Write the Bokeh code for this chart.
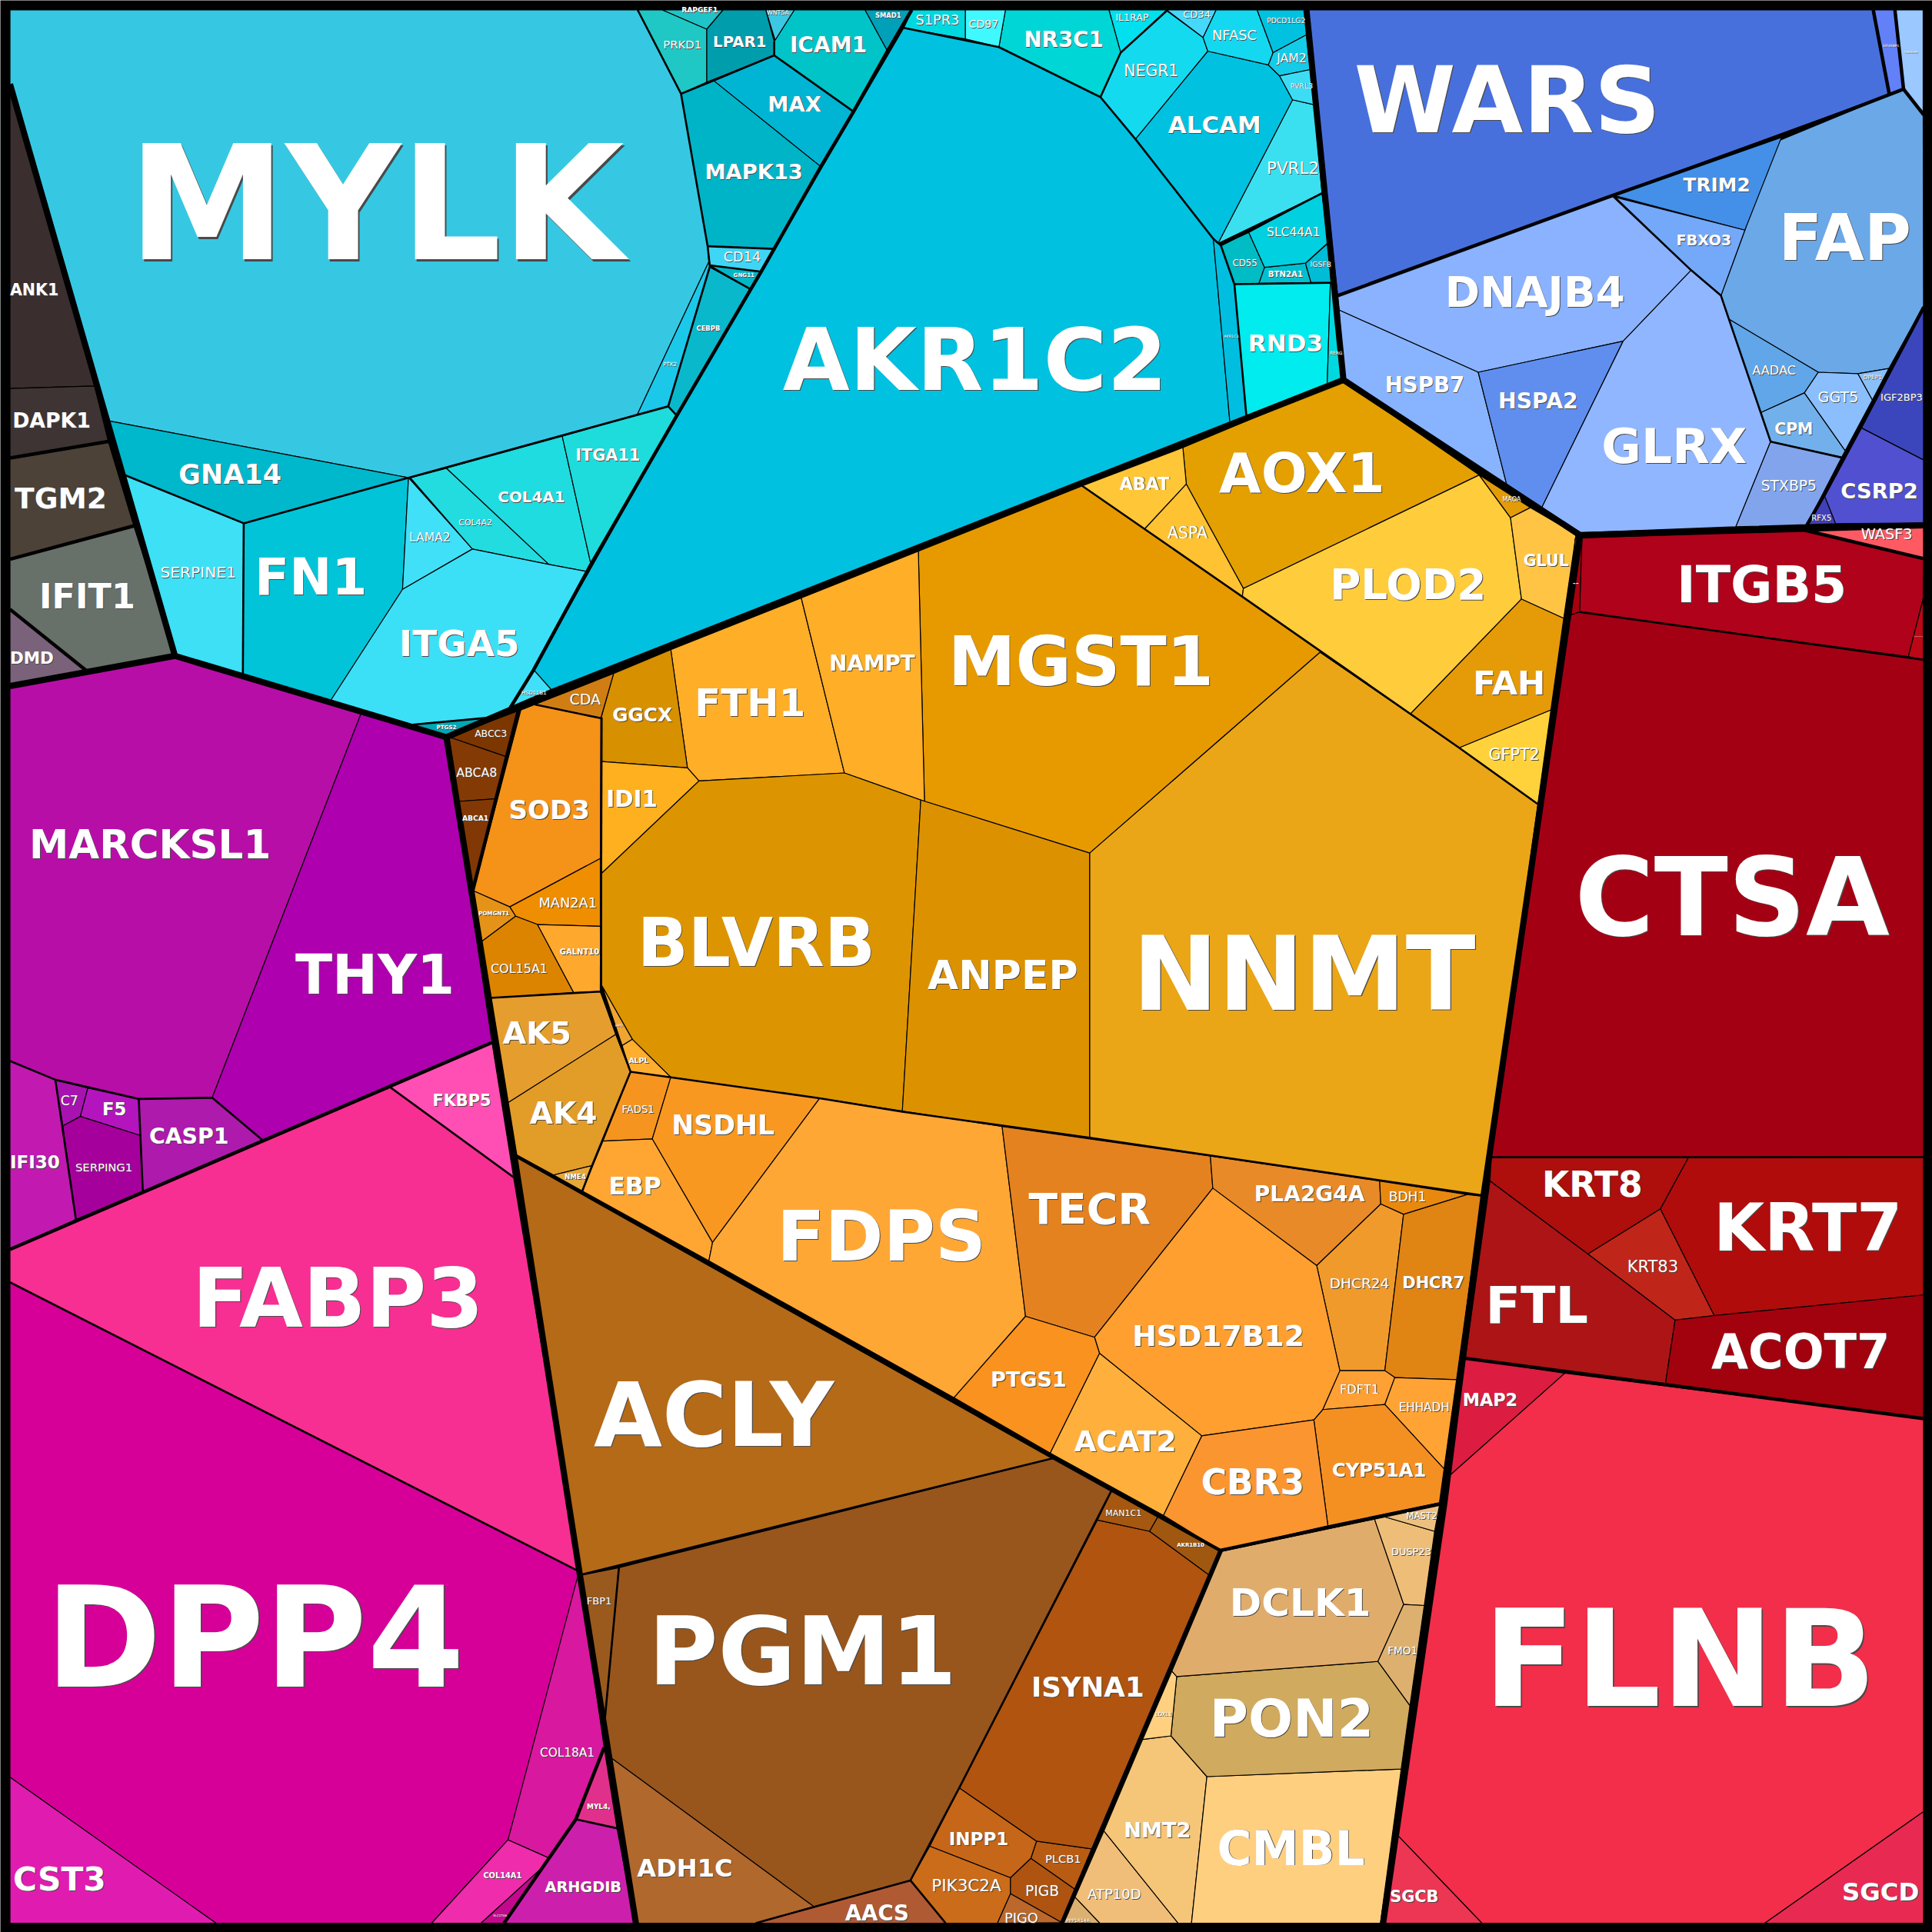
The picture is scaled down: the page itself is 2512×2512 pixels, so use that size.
from bokeh.embed import file_html
from bokeh.resources import INLINE
from bokeh.plotting import figure
from bokeh.models import Range1d, ColumnDataSource
from bokeh.core.properties import value

# ---- cells of the Voronoi treemap, in picture units (0..1568)
dark_genes = ["ANK1","DAPK1","TGM2","IFIT1","DMD"]
dark_colors = ["#3A2E2E","#3E3434","#4C4238","#68706A","#7A627A"]
dark_cells = [
 [(7.8,68),(76.4,313),(7.8,315)],
 [(7.8,315),(76.4,313),(87.6,358),(7.8,371.4)],
 [(7.8,371.4),(87.6,358),(108.3,426.5),(7.8,453.6)],
 [(7.8,453.6),(108.3,426.5),(141.7,531.6),(70,544.1),(7.8,494.2)],
 [(7.8,494.2),(70,544.1),(7.8,556)],
]
magenta_genes = ["MARCKSL1","THY1","FKBP5","FABP3","DPP4","CST3","COL18A1","MYL4,","ARHGDIB","COL14A1","SLC27A6","IFI30","C7","F5","SERPING1","CASP1"]
magenta_colors = ["#B80EA8","#AE00AE","#FF4FB4","#F72F92","#D60098","#E01CB0","#D8189E","#E0308C","#CC20AC","#EE2CAC","#C4088E","#C21AB0","#A812B0","#B414BE","#A6009C","#AE1AAC"]
magenta_cells = [
 [(7.8,558),(141.7,532),(293,578),(171.9,890.6),(112.3,891.6),(71,882.7),(44.6,876),(7.8,860.8)],
 [(293,578),(362,598),(399,845.8),(212.6,924.9),(171.9,890.6)],
 [(399,845.8),(416.5,955.1),(316.2,882)],
 [(7.8,1013.7),(316.2,882),(416.5,955.1),(469.6,1275),(7.8,1040.4)],
 [(7.8,1040.4),(469.6,1275),(453.6,1342),(412,1492.9),(350,1560.5),(175,1560.5),(7.8,1442)],
 [(7.8,1442),(175,1560.5),(7.8,1560.5)],
 [(469.6,1275),(490,1418),(467.1,1476.2),(444.6,1507.4),(412,1492.9)],
 [(490,1418),(500.4,1483.5),(467.1,1476.2)],
 [(467.1,1476.2),(500.4,1483.5),(515,1560.5),(408.8,1560.5)],
 [(412,1492.9),(444.6,1507.4),(440.5,1514.7),(390.1,1560.5),(350,1560.5)],
 [(440.5,1514.7),(408.8,1560.5),(390.1,1560.5)],
 [(7.8,860.8),(44.6,876),(61.3,989.4),(7.8,1013.7)],
 [(44.6,876),(71,882.7),(64.9,905.8),(50.7,913.5)],
 [(71,882.7),(112.3,891.6),(113.4,921.2),(64.9,905.8)],
 [(50.7,913.5),(64.9,905.8),(113.4,921.2),(115.6,966.5),(61.3,989.4)],
 [(112.3,891.6),(171.9,890.6),(212.6,924.9),(115.6,966.5)],
]
cyan_genes = ["MYLK","PTK2","CEBPB","GNG11","CD14","MAPK13","MAX","ICAM1","WNT5A","SMAD1","LPAR1","RAPGEF1","PRKD1","AKR1C2","AKR1C3","RND3","RERG","CD55","BTN2A1","IGSF8","SLC44A1","PVRL2","ALCAM","NEGR1","IL1RAP","CD34","NFASC","PDCD1LG2","JAM2","PVRL3","NR3C1","CD97","S1PR3","GNA14","SERPINE1","FN1","LAMA2","COL4A2","COL4A1","ITGA11","ITGA5","HSD11B1","PTGS2"]
cyan_colors = ["#36C8E2","#1CC8EA","#0AB8CC","#00B7C7","#3FD6F5","#00B4C8","#00B5D4","#00C4C8","#3CC8E2","#00A0B8","#009DAD","#1FC4C8","#1FC8C4","#00C1E0","#00BEE0","#00ECEE","#00D8E0","#00BCC4","#00C0D0","#00BCD4","#00D0E0","#3AE0F0","#00C2E0","#14DAF0","#00E0EE","#46D8FA","#14D8F0","#00C2E0","#14CCE8","#3DDCF5","#00D6D6","#40F8FF","#00D8E0","#00B8CC","#3DE0F5","#02C4D8","#40E0F8","#22DCE0","#1EDCE0","#1EDCDC","#3CE0F6","#40E0FA","#00A8B4"]
cyan_cells = [
 [(7.8,7.8),(517.2,7.8),(552.4,75.8),(574,199.5),(575,212),(517,336),(331.2,387.4),(87.6,341.2),(7.8,68)],
 [(575,212),(575.8,216),(542,329.5),(517,336)],
 [(575.8,216),(609,234.5),(549,337),(542,329.5)],
 [(575.8,215),(617.4,220.2),(609,234.5)],
 [(574,199.5),(628,201.7),(617.4,220.2),(575.8,215)],
 [(552.4,75.8),(579.2,65.3),(665.9,134.9),(628,201.7),(574,199.5)],
 [(579.2,65.3),(628,44.6),(692.4,90.3),(665.9,134.9)],
 [(628,44.6),(628,33.4),(644.3,7.8),(701.8,7.8),(720,41.2),(692.4,90.3)],
 [(621.2,7.8),(644.3,7.8),(628.8,32.3)],
 [(701.8,7.8),(739.6,7.8),(720,41.2)],
 [(573.2,23.4),(586.4,7.8),(621.2,7.8),(628,33.4),(628,44.6),(573.2,66.4)],
 [(537.2,7.8),(586.4,7.8),(573.2,23.4)],
 [(517.2,7.8),(537.2,7.8),(573.2,23.4),(573.2,66.4),(552.4,75.8)],
 [(733.2,22.3),(810.4,37.9),(892.8,78.5),(921.2,112.6),(984.4,193.5),(998,344),(448.4,560.9),(432.8,543.3),(549,337)],
 [(984.4,193.5),(990.5,198.8),(1001.5,230.3),(1011.3,337.7),(998,344)],
 [(1001.5,230.3),(1079.4,229.2),(1076.8,313),(1011.3,339)],
 [(1079.4,229.2),(1087,229),(1090,308),(1076.8,313)],
 [(990.5,198.8),(1013.2,188.4),(1026,216.7),(1021.5,229.6),(1001.5,230.3)],
 [(1026,216.7),(1059.2,213.3),(1063.7,229),(1021.5,229.6)],
 [(1059.2,213.3),(1078,196.6),(1080,229),(1063.7,229)],
 [(1013.2,188.4),(1072.6,156.5),(1077.5,196.6),(1059.2,213.3),(1026,216.7)],
 [(988.2,197.3),(1048.7,80.7),(1066.2,84.7),(1072.6,156.5)],
 [(921.2,112.6),(979.9,41.2),(1029.1,52.4),(1038.2,61.3),(1048.7,80.7),(988.2,197.3),(984.4,193.5)],
 [(892.8,78.5),(909.2,42.4),(946.6,8.5),(976.1,30.1),(979.9,41.2),(921.2,112.6)],
 [(899.7,7.8),(946.6,7.8),(909.2,42.4)],
 [(946.6,7.8),(986.7,7.8),(976.1,30.1)],
 [(986.7,7.8),(1020,7.8),(1032.9,42.4),(1029.1,52.4),(979.9,41.2),(976.1,30.1)],
 [(1020,7.8),(1060,7.8),(1060,27.9),(1032.9,42.4)],
 [(1032.9,42.4),(1060,27.9),(1063,56.2),(1038.2,61.3),(1029.1,52.4)],
 [(1038.2,61.3),(1063,56.2),(1066.2,84.7),(1048.7,80.7)],
 [(815.7,7.8),(899.7,7.8),(909.2,42.4),(892.8,78.5),(810.4,37.9)],
 [(783.1,7.8),(815.7,7.8),(810.4,37.9),(783.1,31.2)],
 [(740,7.8),(783.1,7.8),(783.1,31.2),(733.2,22.3)],
 [(87.6,341.2),(331.2,387.4),(197.5,424.4),(100.3,385)],
 [(100.3,385),(197.5,424.4),(196.8,547.2),(141.7,531.6)],
 [(197.5,424.4),(331.2,387.4),(326.4,478),(268.2,568),(196.8,547.2)],
 [(331.2,387.4),(383.1,445.3),(326.4,478)],
 [(332.8,387.4),(362,379.7),(445.2,457.8),(383.1,445.3)],
 [(362,379.7),(456,353.7),(479.3,457.8),(476.1,463.6),(445.2,457.8)],
 [(456,353.7),(542,329.5),(549,337),(479.3,457.8)],
 [(383.1,445.3),(445.2,457.8),(476.1,463.6),(432.8,543.3),(414.1,575.4),(398,582),(334.4,587.8),(268.2,568),(326.4,478)],
 [(432.8,543.3),(448.4,560.9),(414.1,575.4)],
 [(334.4,587.8),(398,582),(362,598)],
]
blue_genes = ["WARS","EIF4EBP1","TMEM189","FAP","TRIM2","FBXO3","DNAJB4","HSPB7","HSPA2","GLRX","AADAC","GGT5","DPEP1","CPM","STXBP5","RFX5","CSRP2","IGF2BP3"]
blue_colors = ["#4870DD","#6280F8","#9AC8FF","#6AA8E8","#4490E8","#74A8F8","#8AB2FF","#88B4FF","#5F8EEE","#90B6FF","#60A6E8","#8ABEFC","#8AC0F8","#72B0EC","#82A4EC","#4040B8","#5050D0","#3C46BC"]
blue_cells = [
 [(1060,7.8),(1520,7.8),(1533,76),(1085.4,239.6)],
 [(1520,7.8),(1537.6,7.8),(1544.6,72),(1533,76)],
 [(1537.6,7.8),(1560.5,7.8),(1560.5,92),(1544.6,72)],
 [(1440.7,115),(1544.6,72),(1560.5,92),(1560.8,248.2),(1532.6,298.8),(1507.6,303),(1475.4,301.8),(1402.9,258.8),(1396.4,239.6),(1415.8,186.5)],
 [(1309,158.1),(1446,110),(1415.8,186.5)],
 [(1309,159.4),(1415.8,186.5),(1396.4,239.6),(1372.2,219)],
 [(1085.4,239.6),(1309,158.1),(1372.2,219),(1317,276.6),(1199.4,301.8),(1086.6,251.4)],
 [(1086.6,251.4),(1199.4,301.8),(1222.4,392.6),(1240,408),(1090,308)],
 [(1199.4,301.8),(1317,276.6),(1250.6,412.4),(1222.4,392.6)],
 [(1317,276.6),(1372.2,219),(1396.4,239.6),(1402.9,258.8),(1428.7,334.6),(1436.7,358.1),(1408.5,427.2),(1282.8,432),(1250.6,412.4)],
 [(1402.9,258.8),(1475.4,301.8),(1464.1,318.6),(1428.7,334.6)],
 [(1475.4,301.8),(1507.6,303),(1519.3,324.3),(1497.2,365.5),(1464.1,318.6)],
 [(1507.6,303),(1532.6,298.8),(1519.3,324.3)],
 [(1464.1,318.6),(1497.2,365.5),(1494.3,370.9),(1436.7,358.1),(1428.7,334.6)],
 [(1436.7,358.1),(1494.3,370.9),(1466.1,425.5),(1408.5,427.2)],
 [(1480.2,401.3),(1489.5,424.7),(1466.1,425.5)],
 [(1494.3,371.7),(1509.6,346.5),(1560.8,372.9),(1560.8,424),(1489.5,424.7),(1480.2,401.3)],
 [(1560.8,249.5),(1560.8,372.9),(1509.6,346.5)],
]
orange_genes = ["NNMT","GFPT2","MGST1","AOX1","ABAT","ASPA","PLOD2","GLUL","MAOA","FAH","FTH1","NAMPT","GGCX","CDA","IDI1","BLVRB","ANPEP","SOD3","MAN2A1","POMGNT1","COL15A1","GALNT10","AK5","AK4","NME4","HPD","ALPL","FADS1","EBP","NSDHL","FDPS","TECR","PLA2G4A","BDH1","DHCR24","DHCR7","FDFT1","EHHADH","CYP51A1","HSD17B12","CBR3","ACAT2","PTGS1","ABCC3","ABCA8","ABCA1"]
orange_colors = ["#EAA616","#FFD23C","#E69A00","#E3A000","#FFC638","#FFC232","#FFCC3C","#FFC444","#E39C08","#E59A08","#FFAE28","#FFAE28","#D69000","#D07E14","#FFB01E","#DC9500","#DC9200","#F59218","#EE8E00","#E59318","#DC8400","#FFA82E","#E59E2E","#E29C28","#E6A838","#F0A530","#FFAE30","#F59520","#FFA632","#F99820","#FFA735","#E48220","#E88A28","#E8890E","#F09A2C","#E08414","#FFA035","#FFA335","#F49022","#FF9F30","#FB9530","#FFB03C","#F9921E","#7C3600","#843A04","#823804"]
orange_cells = [
 [(884,692),(1071,529),(1183.9,606.6),(1247.8,652.3),(1204,970),(1119.4,958.2),(982,938),(884,923)],
 [(1183.9,606.6),(1258.4,575.8),(1247.8,652.3)],
 [(745,447),(878,394),(1008,484),(1144.4,579.1),(1071,529),(884,692),(750,650)],
 [(959.7,363),(1089.4,308.7),(1200.2,385.2),(1008.8,477.3),(962.5,392.6)],
 [(878,394),(959.7,363),(962.5,392.6),(928.7,429)],
 [(962.5,392.6),(1008.8,477.3),(1008,484),(928.7,429)],
 [(1008.8,477.3),(1200.2,385.2),(1225.6,419.8),(1234.5,485.9),(1144.4,579.1),(1008,484)],
 [(1225.6,419.8),(1241.7,411.6),(1278.8,433.4),(1268.8,501.5),(1234.5,485.9)],
 [(1200.2,385.2),(1241.7,411.6),(1225.6,419.8)],
 [(1234.5,485.9),(1268.8,501.5),(1258.4,575.8),(1183.9,606.6),(1144.4,579.1)],
 [(544.1,527),(650,485),(685,627),(567,633.5),(557.6,622.9)],
 [(650,485),(745,447),(750,650),(685,627)],
 [(497.7,546.3),(544.1,527),(557.6,622.9),(488,617.7),(487.5,582.6)],
 [(497.7,546.3),(487.3,582.6),(433.8,571.4)],
 [(488,617.7),(557.6,622.9),(567,633.5),(488,708.5)],
 [(488,708.5),(567,633.5),(685,627),(747,649),(732,902),(544.1,874),(512.9,843.2),(488,800)],
 [(747,649),(884,692),(884,923),(732,902)],
 [(422.4,576),(433.8,571.4),(487.3,582.6),(486.9,696.4),(413.4,735.7),(383.9,722.7)],
 [(486.9,696.4),(486.9,751.5),(435.9,750),(418.2,743.3),(413.4,735.7)],
 [(383.9,722.7),(413.4,735.7),(418.2,743.3),(390.1,764.2)],
 [(390.1,764.2),(418.2,743.3),(435.9,750),(465.3,805.3),(397.4,809.6)],
 [(435.9,750),(486.9,751.5),(487.3,804.4),(465.3,805.3)],
 [(397.4,809.6),(487.3,804.4),(499.4,839.2),(411,895.2)],
 [(411,895.2),(499.4,839.2),(511.4,869.5),(480.2,945.7),(449,953.3),(417.2,936)],
 [(449,953.3),(480.2,945.7),(472.3,966.3)],
 [(488.4,800),(512.9,843.2),(504.6,848.3)],
 [(504.6,848.3),(512.9,843.2),(544.1,874),(511.4,869.5)],
 [(511.4,869.5),(544.1,874),(529.1,924),(489,925.8)],
 [(489,925.8),(529.1,924),(578,1008),(575,1023),(472.3,966.3)],
 [(544.1,874),(665,891),(578,1008),(529.1,924)],
 [(665,891),(813,914),(832,1068),(774,1134),(575,1023),(578,1008)],
 [(813,914),(982,938),(984,964),(888,1085),(832,1068)],
 [(982,938),(1119.4,958.2),(1120.3,976.9),(1068.3,1026.8),(984,964)],
 [(1119.4,958.2),(1190.5,969.2),(1138.8,985.2),(1120.3,976.9)],
 [(1120.3,976.9),(1138.8,985.2),(1123.6,1112.1),(1087.1,1112.1),(1068.3,1026.8)],
 [(1138.8,985.2),(1190.5,969.2),(1202.4,970.6),(1181.8,1119.4),(1131.7,1117.7),(1123.6,1112.1)],
 [(1087.1,1112.1),(1123.6,1112.1),(1131.7,1117.7),(1123.6,1139.6),(1073.2,1143.7)],
 [(1131.7,1117.7),(1181.8,1119.4),(1171.7,1191.8),(1123.6,1139.6)],
 [(1123.6,1139.6),(1171.7,1191.8),(1167.9,1219.3),(1077.4,1238),(1066,1152),(1073.2,1143.7)],
 [(984,964),(1068.3,1026.8),(1087.1,1112.1),(1073.2,1143.7),(1066,1152),(975,1165),(892,1098),(888,1085)],
 [(975,1165),(1066,1152),(1077.4,1238),(990,1258),(943.9,1229.5)],
 [(892,1098),(975,1165),(943.9,1229.5),(852,1179)],
 [(832,1068),(888,1085),(892,1098),(852,1179),(774,1134)],
 [(364.1,597.8),(420.3,576.6),(410.5,613.8)],
 [(364.1,597.8),(410.5,613.8),(401.6,648),(372,650.1)],
 [(372,650.1),(401.6,648),(383.5,719.7)],
]
brown_genes = ["ACLY","FBP1","PGM1","ADH1C","AACS","INPP1","PIK3C2A","PIGB","PLCB1","PIGO","ISYNA1","MAN1C1","AKR1B10","PPP1R14A","ATP10D","NMT2","CMBL","PON2","LOXL1","DCLK1","DUSP23","MAST2","FMO1"]
brown_colors = ["#B56A18","#9A5A1E","#98561C","#B0682C","#B05A34","#C66618","#CA6C1A","#AE5410","#B85C14","#BC682C","#B05410","#A65810","#A05810","#DCB070","#F0BE78","#F5C578","#FFCF80","#D0AA5E","#FFD080","#E0AC6C","#EEBE78","#EDC080","#DDB070"]
brown_cells = [
 [(417,937),(855,1183),(470,1278)],
 [(472,1278),(502,1272),(490.6,1395)],
 [(502,1272),(855,1183),(902,1209),(778.2,1450.7),(754.3,1498.1),(738.6,1525.8),(660,1547),(495.6,1426.3),(490.6,1395)],
 [(495.6,1426.3),(660,1547),(613,1560.5),(516,1560.5)],
 [(613,1560.5),(738.6,1525.8),(767.2,1560.5)],
 [(778.2,1450.7),(841,1494),(836.4,1507.9),(819.8,1523.7),(754.3,1498.1)],
 [(754.3,1498.1),(819.8,1523.7),(819.8,1536.6),(809.2,1560.5),(767.2,1560.5),(738.6,1525.8)],
 [(819.8,1523.7),(836.4,1507.9),(872.9,1533.5),(861.4,1560.1),(819.8,1536.6)],
 [(841,1494),(886.7,1500.3),(872.9,1533.5),(836.4,1507.9)],
 [(819.8,1536.6),(861.4,1560.1),(809.2,1560.5)],
 [(890.4,1233.3),(932.7,1242.5),(982,1278.7),(886.7,1500.3),(841,1494),(778.2,1450.7)],
 [(902,1209),(939.7,1230.2),(932.7,1242.5),(890.4,1233.3)],
 [(939.7,1230.2),(990,1258),(982,1278.7),(932.7,1242.5)],
 [(872.2,1539.4),(892.3,1560.5),(863,1560.5)],
 [(895.6,1485.7),(955.8,1560.5),(892.3,1560.5),(872.2,1539.4)],
 [(927.1,1411.4),(950,1408.5),(979.2,1441.6),(966.7,1560.5),(955.8,1560.5),(895.6,1485.7)],
 [(979.2,1441.6),(1136.9,1435.4),(1120,1560.5),(966.7,1560.5)],
 [(954.7,1360.4),(1118,1348.1),(1144,1383.9),(1136.9,1435.4),(979.2,1441.6),(950,1408.5)],
 [(950.8,1356),(954.7,1360.4),(950,1408.5),(927.1,1411.4)],
 [(991.8,1258.6),(1115.2,1232.4),(1138.9,1301.8),(1118,1348.1),(954.7,1360.4),(950.8,1356)],
 [(1115.2,1232.4),(1123,1230.6),(1164,1242.5),(1155.6,1302.7),(1138.9,1301.8)],
 [(1123,1230.6),(1168.1,1220.6),(1164,1242.5)],
 [(1138.9,1301.8),(1155.6,1302.7),(1144,1383.9),(1118,1348.1)],
]
red_genes = ["WASF3","ITGB5","--","......","CTSA","KRT8","KRT7","KRT83","FTL","ACOT7","MAP2","FLNB","SGCB","SGCD"]
red_colors = ["#FF5A64","#B0021A","#A8000E","#BC0816","#A40014","#AE0E0C","#B00C0C","#C0251A","#AC1416","#A2020E","#DC1C40","#F22E4A","#EC3654","#E82A52"]
red_cells = [
 [(1464.1,429.9),(1560.8,426),(1560.8,453.1)],
 [(1283.6,436.3),(1464.1,429.9),(1560.8,453.1),(1560.5,485.8),(1548.5,532.7),(1281.6,496.3)],
 [(1278,437),(1283.6,436.3),(1281.6,496.3),(1274,499)],
 [(1560.5,485.8),(1560.8,535.2),(1548.5,532.7)],
 [(1274,499),(1281.6,496.3),(1548.5,532.7),(1560.8,535.2),(1560.8,938.8),(1208,938.8)],
 [(1209.9,939.4),(1369.9,939.4),(1347.2,981),(1288.4,1017.4),(1208.9,958.2)],
 [(1369.9,939.4),(1560.8,938.8),(1560.8,1050.7),(1390.9,1067.4),(1347.2,981)],
 [(1347.2,981),(1390.9,1067.4),(1359.2,1071.1),(1288.4,1017.4)],
 [(1208.9,958.2),(1288.4,1017.4),(1359.2,1071.1),(1351.4,1122.5),(1188.9,1102.1)],
 [(1359.2,1071.1),(1390.9,1067.4),(1560.8,1050.7),(1560.8,1150.6),(1351.4,1122.5)],
 [(1188.9,1102.1),(1269.7,1114.2),(1174.3,1198.9)],
 [(1269.7,1114.2),(1560.8,1151),(1560.8,1470),(1432,1560.5),(1202.4,1560.5),(1133.9,1489.1),(1174.3,1198.9)],
 [(1133.9,1489.1),(1202.4,1560.5),(1123.6,1560.5)],
 [(1560.8,1470),(1560.8,1560.5),(1432,1560.5)],
]
# ---- where each name sits: left, right, middle height
label_left_right_y = {
"MYLK":(105.5,504.5,166),"AKR1C2":(636,946,292),"WARS":(1098,1348,81),"FAP":(1441,1553,193),"DNAJB4":(1173,1318,237),"TRIM2":(1366,1420,150),"FBXO3":(1360,1405,195),"HSPB7":(1124,1188,312),"HSPA2":(1215,1281,325),"GLRX":(1300,1417,362),"AADAC":(1422,1457,300),"GGT5":(1475,1508,322),"CPM":(1440,1471,348),"STXBP5":(1429,1474,394),"CSRP2":(1494,1556,398),"IGF2BP3":(1526,1560,322),"DPEP1":(1512,1527,306),"RFX5":(1470,1486,420),"WASF3":(1510,1552,433),"ITGB5":(1361,1498,474),"CTSA":(1279,1532,728),"KRT8":(1251,1333,961),"KRT7":(1390,1544,996),"KRT83":(1320,1362,1028),"FTL":(1206,1288,1059),"ACOT7":(1389,1533,1097),"MAP2":(1187,1231,1136),"FLNB":(1205,1521,1346),"SGCB":(1128,1167,1539),"SGCD":(1495,1557,1535),
"NNMT":(920,1196,790),"MGST1":(770,984,537),"AOX1":(989,1124,384),"ABAT":(908,949,392),"ASPA":(947,980,432),"PLOD2":(1079,1206,474),"GLUL":(1236,1273,455),"MAOA":(1219,1234,405),"FAH":(1194,1255,554),"GFPT2":(1208,1249,612),"BLVRB":(514,713,765),"ANPEP":(753,874,791),"FTH1":(564,653,570),"NAMPT":(673,742,538),"GGCX":(497,545,580),"IDI1":(492,533,648),"CDA":(462,487,567),"SOD3":(413,478,657),"MAN2A1":(437,484,732),"POMGNT1":(388,413,741),"GALNT10":(454,486,772),"COL15A1":(398,444,786),"AK5":(408,463,838),"AK4":(430,484,903),"HPD":(499,505,832),"ALPL":(510,526,860),"FADS1":(504,531,900),"EBP":(494,536,962),"NME4":(458,475,955),"NSDHL":(545,628,913),"FDPS":(631,799,1003),"TECR":(835,933,981),"PLA2G4A":(1018,1107,969),"BDH1":(1127,1157,971),"DHCR24":(1079,1127,1041),"DHCR7":(1138,1188,1041),"HSD17B12":(919,1058,1084),"FDFT1":(1087,1119,1127),"EHHADH":(1135,1176,1142),"CYP51A1":(1081,1157,1193),"CBR3":(975,1058,1203),"ACAT2":(871,955,1170),"PTGS1":(804,865,1119),"ACLY":(477,681,1148),"PGM1":(527,775,1340),"FBP1":(476,496,1299),"ADH1C":(517,594,1516),"AACS":(686,737,1552),"INPP1":(770,818,1492),"PIK3C2A":(756,812,1530),"PIGB":(832,859,1534),"PLCB1":(848,877,1508),"PIGO":(815,842,1556),"ATP10D":(882,926,1537),"PPP1R14A":(865,884,1558),"ISYNA1":(837,928,1369),"MAN1C1":(897,926,1228),"AKR1B10":(955,977,1254),"DCLK1":(998,1112,1300),"DUSP23":(1129,1161,1259),"MAST2":(1141,1166,1230),"FMO1":(1126,1150,1339),"PON2":(982,1114,1394),"LOXL1":(937,951,1391),"NMT2":(912,966,1485),"CMBL":(988,1107,1500),
"DPP4":(38,375,1329),"FABP3":(153,395,1053),"CST3":(11,85,1525),"COL18A1":(438,482,1422),"COL14A1":(392,423,1522),"MYL4,":(476,495,1466),"ARHGDIB":(442,504,1531),"SLC27A6":(400,411,1554),"MARCKSL1":(24,219,685),"THY1":(240,368,791),"IFI30":(8,48,943),"C7":(49,63,893),"F5":(83,102,900),"SERPING1":(61,107,947),"CASP1":(121,185,922),"FKBP5":(351,398,893),
"ANK1":(8,47,235),"DAPK1":(10,73,341),"TGM2":(12,86,404),"IFIT1":(32,109,484),"DMD":(8,43,534),"GNA14":(145,228,385),"SERPINE1":(130,191,464),"FN1":(207,297,468),"LAMA2":(332,365,436),"COL4A2":(372,399,424),"COL4A1":(404,458,403),"ITGA11":(467,519,369),"ITGA5":(324,421,522),"HSD11B1":(423,443,562),"PTGS2":(354,370,590),"ABCC3":(385,411,595),"ABCA8":(370,403,627),"ABCA1":(375,396,664),
"PRKD1":(538,569,36),"RAPGEF1":(553,582,8),"LPAR1":(578,622,34),"WNT5A":(622,640,10),"ICAM1":(641,703,36),"SMAD1":(710,731,12),"MAX":(623,666,84),"MAPK13":(572,651,139),"CD14":(587,617,208),"GNG11":(595,612,223),"CEBPB":(565,584,266),"PTK2":(538,549,295),"S1PR3":(743,778,16),"CD97":(786,810,19),"NR3C1":(831,895,32),"IL1RAP":(905,932,14),"CD34":(960,982,11),"NFASC":(983,1020,28),"PDCD1LG2":(1028,1059,16),"JAM2":(1036,1060,47),"PVRL3":(1047,1065,69),"NEGR1":(912,956,57),"ALCAM":(948,1023,101),"PVRL2":(1028,1070,136),"SLC44A1":(1028,1071,188),"CD55":(1000,1020,213),"BTN2A1":(1029,1057,222),"IGSF8":(1063,1080,214),"RND3":(1013,1073,278),"RERG":(1079,1089,286),"AKR1C3":(993,1005,273),"EIF4EBP1":(1528,1541,36.6),"TMEM189":(1545,1556,42),
"--":(1276,1281,472),"......":(1552,1561,515),
}
small_but_bold = {"ABCA1","MYL4,","COL14A1","GALNT10","POMGNT1","RAPGEF1","BTN2A1","SMAD1","NME4","ALPL","PTGS2","AKR1B10","CEBPB","GNG11"}
# ---- dividing lines of the hierarchy, heaviest first
border_heavy = [
 [(7.8,68),(141.7,532),(362,598),(448.4,561),(1090,308)],
 [(7.8,556.5),(141.7,532)],
 [(362,598),(417,937),(470,1276),(516,1562)],
 [(1060,7.8),(1090,308),(1282,434),(1561,426)],
 [(1282,434),(1204,968),(1172,1219),(1122,1562)],
]
border_strong = [
 [(739.6,7.8),(720,41.2),(692.4,90.3),(665.9,134.9),(628,201.7),(617.4,220.2),(609,234.5),(549,337),(479.3,457.8),(432.8,543.3),(412,577)],
 [(1085.4,239.6),(1309,158.1),(1446,110),(1544.6,72),(1537.6,7.8)],
 [(1544.6,72),(1561,93)],
 [(1561,249),(1509.6,346.5),(1480.2,401.3),(1466.1,426)],
 [(1188.9,1102.1),(1561,1151)],
 [(1464.1,429.9),(1561,453.1)],
 [(417,937),(855,1183),(990,1258),(1170,1220)],
 [(990,1258),(886.7,1500.3),(861,1561)],
 [(7.8,1013.7),(399,845.8)],
 [(490,1418),(467.1,1476.2),(408.8,1560.5)],
 [(420.3,576.6),(383.5,722)],
 [(7.8,371.4),(87.6,358)],[(7.8,453.6),(108.3,426.5)],[(7.8,494.2),(70,544.1)],
 [(1520,7.8),(1533,76)],
]
border_medium = [
 [(100.3,385),(197.5,424.4),(331.2,387.4),(542,329.5)],
 [(197.5,424.4),(196.8,547.2)],
 [(517.2,7.8),(552.4,75.8),(574,199.5),(575.8,216),(542,329.5),(549,337)],
 [(574,199.5),(628,201.7)],[(575.8,215),(617.4,220.2)],[(575.8,216),(609,234.5)],
 [(552.4,75.8),(628,44.6),(692.4,90.3)],[(628,44.6),(628,33.4)],
 [(733.2,22.3),(810.4,37.9),(892.8,78.5),(921.2,112.6),(984.4,193.5),(990.5,198.8),(1001.5,230.3),(1011.3,337.7)],
 [(990.5,198.8),(1072.6,156.5)],[(1001.5,230.3),(1079.4,229.2)],
 [(892.8,78.5),(909.2,42.4),(946.6,8.5)],
 [(334.4,587.8),(398,582),(414,575)],
 [(1309,159),(1372.2,219),(1396.4,239.6),(1402.9,258.8),(1428.7,334.6),(1436.7,358.1),(1494.3,371)],
 [(878,394),(1008,484),(1144.4,579.1),(1183.9,606.6),(1247.8,652.3)],
 [(511.4,869.5),(544.1,874),(665,891),(732,902),(884,923),(1204,970)],
 [(488,582),(487.3,804.4)],[(487.3,582.6),(433.8,571.4)],
 [(397.4,809.6),(487.3,804.4),(511.4,869.5),(480.2,945.7),(472.3,966.3)],
 [(1281.6,496.3),(1561,535.2)],[(1208,938.8),(1561,938.8)],
 [(316.2,882),(416.5,955.1)],[(7.8,1040.4),(469.6,1275)],[(467.1,1476.2),(500.4,1483.5)],
 [(44.6,876),(61.3,989.4)],[(112.3,891.6),(115.6,966.5)],[(7.8,860.8),(44.6,876),(112.3,891.6),(171.9,890.6),(212.6,924.9)],
 [(490.6,1395),(502,1272)],[(778.2,1450.7),(738.6,1525.8),(613,1560.5)],[(738.6,1525.8),(767.2,1560.5)],
 [(470,1278),(855,1183)],[(902,1209),(778.2,1450.7)],
]

BOLD = dict(zip("ABCDEFGHIJKLMNOPQRSTUVWXYZ",[.774,.762,.734,.830,.683,.683,.821,.837,.372,.372,.775,.637,.995,.837,.850,.733,.850,.770,.720,.682,.812,.774,1.103,.771,.724,.725]))
REG = dict(zip("ABCDEFGHIJKLMNOPQRSTUVWXYZ",[.684,.686,.698,.770,.632,.575,.775,.752,.295,.295,.656,.557,.863,.748,.787,.603,.787,.695,.635,.611,.732,.684,.989,.685,.611,.685]))
def em(name, table, digit, bearing):
    return sum(table.get(c, digit if c.isdigit() else .38) for c in name) - bearing

SCALE = 2512/1568
all_genes = dark_genes+magenta_genes+cyan_genes+blue_genes+orange_genes+brown_genes+red_genes
all_cells = dark_cells+magenta_cells+cyan_cells+blue_cells+orange_cells+brown_cells+red_cells
all_colors = dark_colors+magenta_colors+cyan_colors+blue_colors+orange_colors+brown_colors+red_colors
assert len(all_genes)==len(all_cells)==len(all_colors)

p = figure(width=2512, height=2512, output_backend="svg", toolbar_location=None,
           x_range=Range1d(0,1568), y_range=Range1d(1568,0), min_border=0,
           background_fill_color="black", border_fill_color="black", outline_line_color=None)
p.styles = {"position":"absolute","left":"0px","top":"0px"}
p.axis.visible = False
p.grid.visible = False

p.patches([[v[0] for v in c] for c in all_cells], [[v[1] for v in c] for c in all_cells],
          fill_color=all_colors, line_color="black", line_width=1.2, line_join="round")
for lines, w in ((border_medium,2.6),(border_strong,4.5),(border_heavy,8)):
    p.multi_line([[v[0] for v in l] for l in lines], [[v[1] for v in l] for l in lines],
                 line_color="black", line_width=w, line_join="round")

rows = {True:dict(x=[],y=[],t=[],s=[],o=[]), False:dict(x=[],y=[],t=[],s=[],o=[])}
for g in all_genes:
    x0,x1,yc = label_left_right_y[g]
    wpx = (x1-x0)*SCALE
    size = wpx/em(g,BOLD,.696,.03)
    bold = size >= 19 or g in small_but_bold
    if not bold:
        size = wpx/em(g,REG,.636,.03)
    r = rows[bold]
    r["x"].append((x0+x1)/2); r["y"].append(yc); r["t"].append(g)
    r["s"].append(f"{size:.1f}px"); r["o"].append(max(0.9,size*0.01))
for bold,r in rows.items():
    src = ColumnDataSource(r)
    st = "bold" if bold else "normal"
    p.text("x","y",text="t",source=src,text_font=value("DejaVu Sans"),text_font_size="s",text_font_style=st,
           text_align="center",text_baseline="alphabetic",text_color="#4a4a4a",x_offset="o",y_offset="o")
    p.text("x","y",text="t",source=src,text_font=value("DejaVu Sans"),text_font_size="s",text_font_style=st,
           text_align="center",text_baseline="alphabetic",text_color="white")

open("out.html","w").write(file_html(p, INLINE))
